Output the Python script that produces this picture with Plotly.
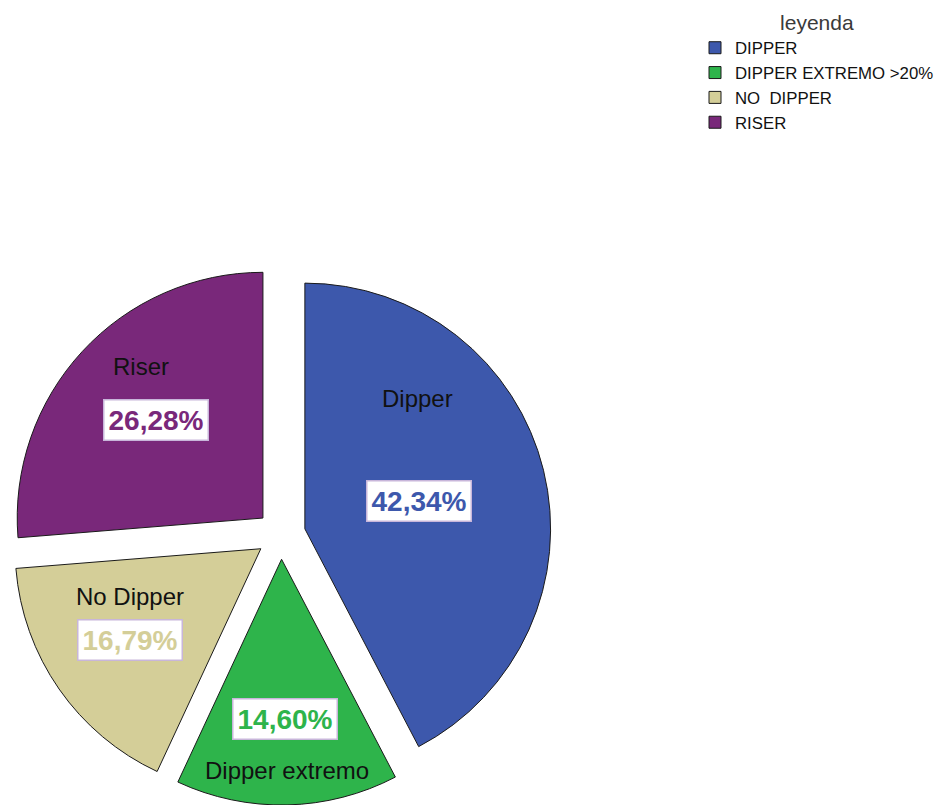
import math
import plotly.graph_objects as go

# Patient counts per nocturnal blood-pressure pattern (N = 137)
categories = ["DIPPER", "DIPPER EXTREMO >20%", "NO  DIPPER", "RISER"]
slice_names = ["Dipper", "Dipper extremo", "No Dipper", "Riser"]
counts = [58, 20, 23, 36]

colors = ["#3D58AC", "#2EB44B", "#D4CE98", "#79287A"]

# Layout / label styling
W, H = 937, 805
CX, CY, R = 281, 535, 246          # pie centre and radius in pixels
PULL = 0.1
pct_radius = [0.48, 0.65, 0.65, 0.59]   # distance of % box from slice tip, in radii
name_dx = [-2, 2, 0, -15]                # offset of the name from the % box
name_dy = [-102, 52, -43, -53]

half = R * (1 + PULL)
dom_x = [(CX - half) / W, (CX + half) / W]
dom_y = [max(0.0, 1 - (CY + half) / H), 1 - (CY - half) / H]

# Reproduce plotly's pie geometry so labels follow the slices
bw = W * (dom_x[1] - dom_x[0])
bh = H * (dom_y[1] - dom_y[0])
r = min(bw, bh) / (2 + 2 * PULL)
cx = W * (dom_x[0] + dom_x[1]) / 2
cy = H * (2 - dom_y[1] - dom_y[0]) / 2

fig = go.Figure(go.Pie(
    labels=categories,
    values=counts,
    sort=False,
    direction="clockwise",
    rotation=0,
    pull=[PULL] * len(counts),
    marker=dict(colors=colors, line=dict(color="#1a1a1a", width=1)),
    textinfo="none",
    domain=dict(x=dom_x, y=dom_y),
    showlegend=True,
))

total = sum(counts)
cum = 0
annotations = []
for i, v in enumerate(counts):
    mid = (cum + v / 2) / total * 2 * math.pi
    cum += v
    ux, uy = math.sin(mid), -math.cos(mid)
    tipx, tipy = cx + PULL * r * ux, cy + PULL * r * uy
    bx = tipx + pct_radius[i] * r * ux
    by = tipy + pct_radius[i] * r * uy
    pct = f"{v / total * 100:.2f}".replace(".", ",") + "%"
    annotations.append(dict(
        x=bx / W, y=1 - by / H, xref="paper", yref="paper",
        xanchor="center", yanchor="middle",
        text=f"<b>{pct}</b>", showarrow=False,
        font=dict(family="Liberation Sans, Arial", size=28, color=colors[i]),
        bgcolor="white", bordercolor="#C8B6DA", borderwidth=1.5, borderpad=4,
    ))
    annotations.append(dict(
        x=(bx + name_dx[i]) / W, y=1 - (by + name_dy[i]) / H,
        xref="paper", yref="paper",
        xanchor="center", yanchor="middle",
        text=slice_names[i], showarrow=False,
        font=dict(family="Liberation Sans, Arial", size=24, color="#111111"),
    ))

fig.update_layout(
    width=W, height=H,
    margin=dict(l=0, r=0, t=0, b=0, autoexpand=False),
    paper_bgcolor="white", plot_bgcolor="white",
    annotations=annotations,
    legend=dict(
        x=695 / W, y=1 - 3 / H, xanchor="left", yanchor="top",
        title=dict(text="leyenda", side="top center",
                   font=dict(family="Liberation Sans, Arial", size=21, color="#3a3a3a")),
        font=dict(family="Liberation Sans, Arial", size=16.8, color="#111111"),
        traceorder="normal", itemwidth=30, tracegroupgap=0,
    ),
)

fig.write_html("out.html")
